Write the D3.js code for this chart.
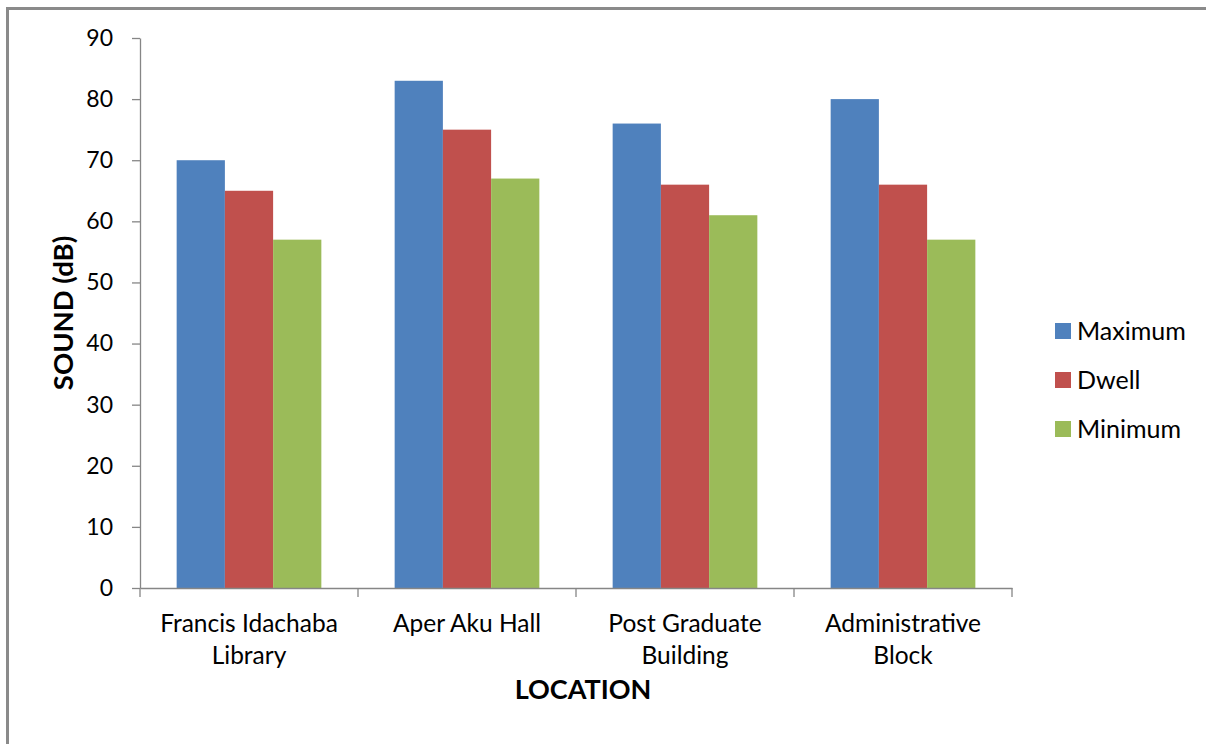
<!DOCTYPE html>
<html>
<head>
<meta charset="utf-8">
<script src="https://cdn.jsdelivr.net/npm/d3@7"></script>
<style>
  html, body { margin: 0; padding: 0; background: #fff; }
  svg { display: block; }
</style>
</head>
<body>
<div id="chart"></div>
<script>
// chart data
const categories = [
  ['Francis Idachaba', 'Library'],
  ['Aper Aku Hall'],
  ['Post Graduate', 'Building'],
  ['Administrative', 'Block']
];
const seriesNames = ['Maximum', 'Dwell', 'Minimum'];
const maximum = [70, 83, 76, 80];
const dwell = [65, 75, 66, 66];
const minimum = [57, 67, 61, 57];
const yTicks = [0, 10, 20, 30, 40, 50, 60, 70, 80, 90];
const colors = ['#4F81BD', '#C0504D', '#9BBB59'];

const W = 1206, H = 744;
const margin = { top: 38, right: 194, bottom: 156, left: 140 };
const innerW = W - margin.left - margin.right;
const innerH = H - margin.top - margin.bottom;
const font = 'Lato, "Liberation Sans", sans-serif';
const axisGray = '#868686';

const svg = d3.select('#chart').append('svg')
  .attr('width', W)
  .attr('height', H);

// frame (only left and top edges visible in the crop)
svg.append('path')
  .attr('d', `M7.5,${H} V8.5 H${W}`)
  .attr('fill', 'none')
  .attr('stroke', '#8a8a8a')
  .attr('stroke-width', 3);

const g = svg.append('g').attr('transform', `translate(${margin.left},${margin.top})`);

const keys = categories.map(c => c.join(' '));
const values = [maximum, dwell, minimum];

const x0 = d3.scaleBand().domain(keys).range([0, innerW]).padding(0);
const x1 = d3.scaleBand().domain(seriesNames).range([0, x0.bandwidth()])
  .paddingInner(0).paddingOuter(0.76);
const y = d3.scaleLinear().domain([0, 90]).range([innerH, 0]);

// bars
const groups = g.append('g').attr('class', 'bars')
  .selectAll('g')
  .data(keys)
  .join('g')
  .attr('transform', d => `translate(${x0(d)},0)`);

groups.selectAll('rect')
  .data((d, i) => seriesNames.map((s, j) => ({ s, v: values[j][i], j })))
  .join('rect')
  .attr('x', d => x1(d.s))
  .attr('y', d => y(d.v))
  .attr('width', x1.bandwidth())
  .attr('height', d => innerH - y(d.v))
  .attr('fill', d => colors[d.j]);

// y axis
g.append('g')
  .call(d3.axisLeft(y).tickValues(yTicks).tickSize(8).tickSizeOuter(0).tickPadding(19))
  .call(ax => {
    ax.select('.domain').attr('stroke', axisGray).attr('stroke-width', 1.3);
    ax.selectAll('.tick line').attr('stroke', axisGray).attr('stroke-width', 1.3);
    ax.selectAll('text')
      .style('font-family', font)
      .style('font-size', '23px')
      .attr('fill', '#000');
  });

// x axis
const xAxis = g.append('g').attr('transform', `translate(0,${innerH})`);
xAxis.call(d3.axisBottom(x0).tickSize(0).tickSizeOuter(0).tickFormat(''))
  .call(ax => ax.select('.domain').attr('stroke', axisGray).attr('stroke-width', 1.3));

const boundaries = keys.map(k => x0(k)).concat([innerW]);
xAxis.selectAll('line.sep')
  .data(boundaries)
  .join('line')
  .attr('class', 'sep')
  .attr('x1', d => d).attr('x2', d => d)
  .attr('y1', 0).attr('y2', 9)
  .attr('stroke', axisGray)
  .attr('stroke-width', 1.3);

const catLabels = xAxis.selectAll('text.cat')
  .data(categories)
  .join('text')
  .attr('class', 'cat')
  .attr('x', (d, i) => x0(keys[i]) + x0.bandwidth() / 2)
  .attr('y', 44)
  .attr('text-anchor', 'middle')
  .style('font-family', font)
  .style('font-size', '24.5px')
  .attr('fill', '#000');

catLabels.selectAll('tspan')
  .data(d => d)
  .join('tspan')
  .attr('x', function () { return d3.select(this.parentNode).attr('x'); })
  .attr('dy', (d, i) => i === 0 ? 0 : 32)
  .text(d => d);

// axis titles
svg.append('text')
  .attr('transform', `translate(73,313) rotate(-90)`)
  .attr('text-anchor', 'middle')
  .style('font-family', font)
  .style('font-weight', 'bold')
  .style('font-size', '27.5px')
  .text('SOUND (dB)');

svg.append('text')
  .attr('x', 583)
  .attr('y', 699)
  .attr('text-anchor', 'middle')
  .style('font-family', font)
  .style('font-weight', 'bold')
  .style('font-size', '27px')
  .text('LOCATION');

// legend
const legend = svg.append('g').attr('transform', 'translate(1055,323)');
const item = legend.selectAll('g')
  .data(seriesNames)
  .join('g')
  .attr('transform', (d, i) => `translate(0,${i * 49})`);

item.append('rect')
  .attr('width', 16)
  .attr('height', 16)
  .attr('fill', (d, i) => colors[i]);

item.append('text')
  .attr('x', 22)
  .attr('y', 17)
  .style('font-family', font)
  .style('font-size', '25px')
  .text(d => d);
</script>
</body>
</html>
